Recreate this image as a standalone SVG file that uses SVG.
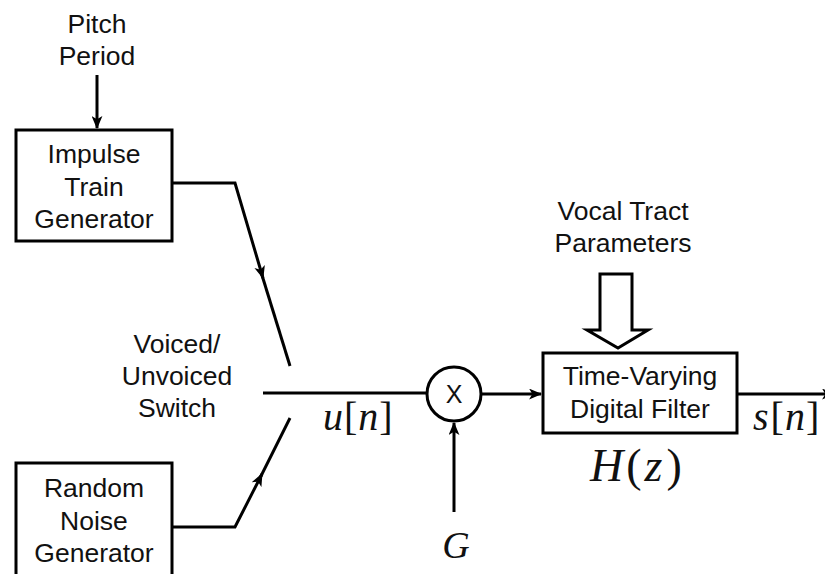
<svg xmlns="http://www.w3.org/2000/svg" width="825" height="574" viewBox="0 0 825 574">
<style>
.t{font-family:"Liberation Sans",Arial,sans-serif;font-size:26.5px;fill:#111;text-anchor:middle}
.m{font-family:"Liberation Serif","Times New Roman",serif;font-style:italic;fill:#111}
.u{font-style:normal}
.box{fill:#fff;stroke:#000;stroke-width:3}
.ln{fill:none;stroke:#000;stroke-width:3}
</style>
<defs>
<marker id="ah" viewBox="0 0 12 10" refX="11" refY="5" markerWidth="13" markerHeight="11" markerUnits="userSpaceOnUse" orient="auto">
<path d="M0,0 L12,5 L0,10 L3,5 z" fill="#000"/>
</marker>
</defs>
<g id="connectors">
<line class="ln" x1="97" y1="75" x2="97" y2="128" marker-end="url(#ah)"/>
<polyline class="ln" points="172,183 235,183 263,278" marker-end="url(#ah)"/>
<line class="ln" x1="261" y1="272" x2="290" y2="366"/>
<polyline class="ln" points="172,527 235,527 262,474" marker-end="url(#ah)"/>
<line class="ln" x1="260" y1="478" x2="290" y2="418"/>
<line class="ln" x1="263" y1="393" x2="426" y2="393"/>
<line class="ln" x1="481" y1="394" x2="541" y2="394" marker-end="url(#ah)"/>
<line class="ln" x1="737" y1="394" x2="834" y2="394" marker-end="url(#ah)"/>
<line class="ln" x1="454" y1="512" x2="454" y2="423" marker-end="url(#ah)"/>
<polygon class="ln" points="600,274 632,274 632,330 648,330 618,348 587,330 600,330" fill="#fff"/>
</g>
<g id="pitch">
<text class="t" x="97" y="33">Pitch</text>
<text class="t" x="97" y="65">Period</text>
</g>
<g id="impulse">
<rect class="box" x="16" y="130" width="156" height="111"/>
<text class="t" x="94" y="163">Impulse</text>
<text class="t" x="94" y="196">Train</text>
<text class="t" x="94" y="228">Generator</text>
</g>
<g id="noise">
<rect class="box" x="16" y="463" width="156" height="120"/>
<text class="t" x="94" y="497">Random</text>
<text class="t" x="94" y="530">Noise</text>
<text class="t" x="94" y="562">Generator</text>
</g>
<g id="switch">
<text class="t" x="177" y="353">Voiced/</text>
<text class="t" x="177" y="385">Unvoiced</text>
<text class="t" x="177" y="417">Switch</text>
<text class="m" x="323" y="430" font-size="40">u<tspan class="u" dx="1">[</tspan><tspan dx="1">n</tspan><tspan class="u" dx="1">]</tspan></text>
</g>
<g id="multiplier">
<circle class="box" cx="454" cy="394" r="27"/>
<text class="t" x="454" y="403" style="font-size:25px">X</text>
<text class="m" x="456" y="558" font-size="38" text-anchor="middle">G</text>
</g>
<g id="vocal">
<text class="t" x="623" y="220">Vocal Tract</text>
<text class="t" x="623" y="252">Parameters</text>
</g>
<g id="filter">
<rect class="box" x="543" y="353" width="194" height="80"/>
<text class="t" x="640" y="385">Time-Varying</text>
<text class="t" x="640" y="418">Digital Filter</text>
<text class="m" x="590" y="481" font-size="46">H<tspan class="u" dx="3">(</tspan><tspan dx="3">z</tspan><tspan class="u" dx="4">)</tspan></text>
<text class="m" x="753" y="430" font-size="40">s<tspan class="u" dx="2">[</tspan><tspan dx="1">n</tspan><tspan class="u" dx="1">]</tspan></text>
</g>
</svg>
